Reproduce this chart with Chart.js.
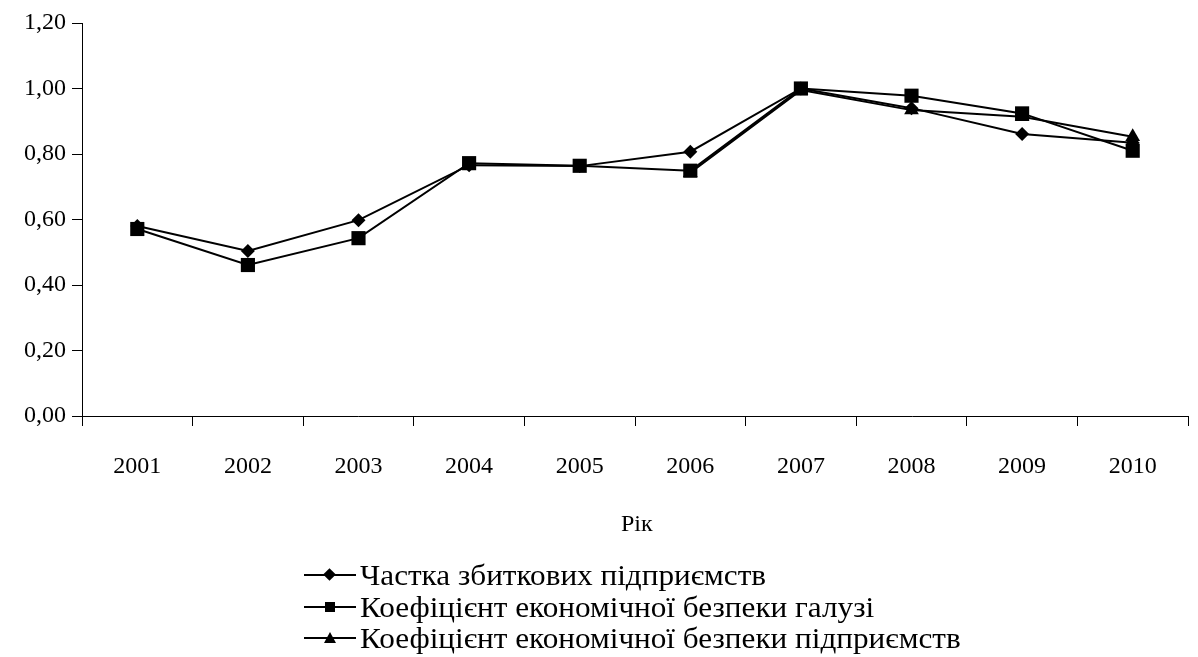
<!DOCTYPE html>
<html>
<head>
<meta charset="utf-8">
<script src="https://cdn.jsdelivr.net/npm/chart.js@4.4.1/dist/chart.umd.min.js"></script>
<style>
  html, body { margin: 0; padding: 0; background: #fff; }
  #wrap { position: relative; width: 1198px; height: 657px; font-family: "Liberation Serif", "DejaVu Serif", serif; color: #000; }
  #c { position: absolute; left: 0; top: 0; }
  .txt { position: absolute; font-size: 24px; line-height: 24px; white-space: nowrap; }
  .leg { position: absolute; left: 304px; height: 30px; }
  .leg .ln { position: absolute; left: 0; top: 14px; width: 52px; height: 2px; background: #000; }
  .leg .mk { position: absolute; }
  .leg .t { position: absolute; left: 56px; top: 0px; font-size: 30px; line-height: 30px; white-space: nowrap; transform: scaleX(1.04); transform-origin: left center; }
  .dia { left: 21px; top: 10px; width: 9px; height: 9px; background: #000; transform: rotate(45deg); }
  .sq { left: 21px; top: 10px; width: 10px; height: 10px; background: #000; }
  .tri { left: 20px; top: 9px; width: 0; height: 0; border-left: 6px solid transparent; border-right: 6px solid transparent; border-bottom: 11px solid #000; }
</style>
</head>
<body>
<div id="wrap">
  <canvas id="c" width="1198" height="657"></canvas>
  <div class="txt" style="left:621px; top:511px;">Рік</div>
  <div class="leg" style="top:560px;"><div class="ln"></div><div class="mk dia"></div><div class="t" id="l0"></div></div>
  <div class="leg" style="top:592px;"><div class="ln"></div><div class="mk sq"></div><div class="t" id="l1"></div></div>
  <div class="leg" style="top:623px;"><div class="ln"></div><div class="mk tri"></div><div class="t" id="l2"></div></div>
</div>
<script>
const years = ["2001","2002","2003","2004","2005","2006","2007","2008","2009","2010"];
const seriesNames = [
  "Частка збиткових підприємств",
  "Коефіцієнт економічної безпеки галузі",
  "Коефіцієнт економічної безпеки підприємств"
];
const shareLoss   = [0.580, 0.504, 0.598, 0.766, 0.763, 0.807, 1.00, 0.940, 0.861, 0.834];
const coefSector  = [0.571, 0.461, 0.543, 0.772, 0.764, 0.749, 1.00, 0.978, 0.924, 0.810];
const coefFirms   = [null, null, null, null, null, 0.743, 0.995, 0.934, 0.914, 0.853];
const yTicks = { min: 0, max: 1.2, step: 0.2 };

document.getElementById('l0').textContent = seriesNames[0];
document.getElementById('l1').textContent = seriesNames[1];
document.getElementById('l2').textContent = seriesNames[2];

const font = { family: '"Liberation Serif", "DejaVu Serif", serif', size: 24 };

new Chart(document.getElementById('c'), {
  type: 'line',
  data: {
    labels: years,
    datasets: [
      { label: seriesNames[0], data: shareLoss, borderColor: '#000', backgroundColor: '#000', borderWidth: 2,
        pointStyle: 'rectRot', pointRadius: 7, pointBorderWidth: 0, order: 3, tension: 0 },
      { label: seriesNames[1], data: coefSector, borderColor: '#000', backgroundColor: '#000', borderWidth: 2,
        pointStyle: 'rect', pointRadius: 10, pointBorderWidth: 0, order: 1, tension: 0 },
      { label: seriesNames[2], data: coefFirms, borderColor: '#000', backgroundColor: '#000', borderWidth: 2,
        pointStyle: 'triangle', pointRadius: 8.5, pointBorderWidth: 0, order: 2, tension: 0, spanGaps: false }
    ]
  },
  options: {
    responsive: false,
    animation: false,
    events: [],
    layout: { padding: { left: 0, right: 8, top: 23, bottom: 0 } },
    plugins: { legend: { display: false }, tooltip: { enabled: false } },
    scales: {
      x: {
        type: 'category',
        offset: true,
        grid: { offset: true, drawOnChartArea: false, drawTicks: true, tickLength: 10, color: '#000', lineWidth: 1 },
        border: { display: true, color: '#000', width: 1 },
        ticks: { color: '#000', font: font, padding: 26, maxRotation: 0, autoSkip: false },
        afterFit: (s) => { s.height = 241; }
      },
      y: {
        min: yTicks.min, max: yTicks.max,
        grid: { drawOnChartArea: false, drawTicks: true, tickLength: 10, color: '#000', lineWidth: 1 },
        border: { display: true, color: '#000', width: 1 },
        ticks: { stepSize: yTicks.step, color: '#000', font: font, padding: 6,
          callback: (v) => v.toFixed(2).replace('.', ',') },
        afterFit: (s) => { s.width = 82; }
      }
    }
  }
});
</script>
</body>
</html>
